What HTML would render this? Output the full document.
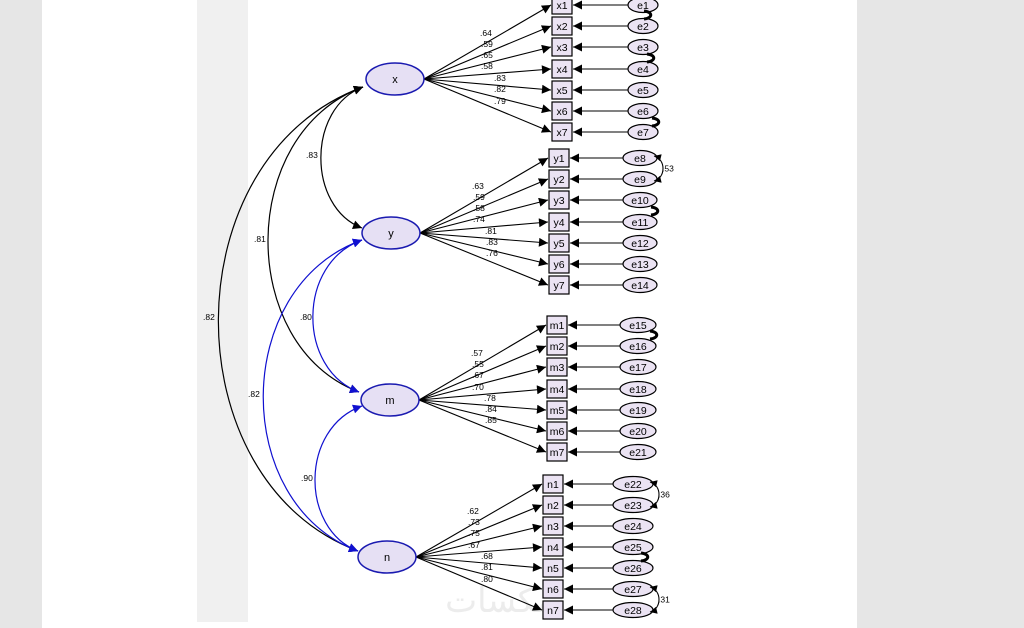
<!DOCTYPE html>
<html><head><meta charset="utf-8"><style>
body{margin:0;width:1024px;height:628px;overflow:hidden;background:#e6e6e6;font-family:"Liberation Sans",sans-serif}
#page{position:absolute;left:42px;top:0;width:815px;height:628px;background:#fff}
#strip{position:absolute;left:197px;top:0;width:51px;height:622px;background:#f0f0f0}
svg{position:absolute;left:0;top:0}
</style></head><body>
<div id="page"></div><div id="strip"></div>
<svg width="1024" height="628" viewBox="0 0 1024 628" font-family="Liberation Sans, sans-serif">
<defs>
<marker id="a" viewBox="0 0 10 10" refX="10" refY="5" markerWidth="13" markerHeight="9" orient="auto-start-reverse" markerUnits="userSpaceOnUse"><path d="M0,0L10,5L0,10z" fill="#000"/></marker>
<marker id="b" viewBox="0 0 10 10" refX="10" refY="5" markerWidth="13" markerHeight="9" orient="auto-start-reverse" markerUnits="userSpaceOnUse"><path d="M0,0L10,5L0,10z" fill="#1010d0"/></marker>
<marker id="s" viewBox="0 0 10 10" refX="10" refY="5" markerWidth="9" markerHeight="7" orient="auto-start-reverse" markerUnits="userSpaceOnUse"><path d="M0,0L10,5L0,10z" fill="#000"/></marker>
</defs>
<text x="500" y="612" font-size="34" text-anchor="middle" fill="#ececec" font-family="DejaVu Sans, sans-serif">مكسات</text>
<g fill="none" stroke-width="1.2">
<path d="M363,87 C307,108 307,207 362,228" stroke="#000" marker-start="url(#a)" marker-end="url(#a)"/>
<path d="M363,87 C237,133 237,346 359,392" stroke="#000" marker-start="url(#a)" marker-end="url(#a)"/>
<path d="M363,87 C171,157 171,481 358,551" stroke="#000" marker-start="url(#a)" marker-end="url(#a)"/>
<path d="M362,240 C297,263 297,369 359,392" stroke="#1010d0" marker-start="url(#b)" marker-end="url(#b)"/>
<path d="M362,240 C231,287 231,504 358,551" stroke="#1010d0" marker-start="url(#b)" marker-end="url(#b)"/>
<path d="M362,406 C300,428 300,529 358,551" stroke="#1010d0" marker-start="url(#b)" marker-end="url(#b)"/>
</g>
<g font-size="8.5" fill="#000">
<text x="306" y="158">.83</text><text x="254" y="242">.81</text><text x="203" y="320">.82</text>
<text x="300" y="320">.80</text><text x="248" y="397">.82</text><text x="301" y="481">.90</text>
</g>
</svg>
<script>
var S="http://www.w3.org/2000/svg",svg=document.querySelector('svg');
function el(n,a,t){var e=document.createElementNS(S,n);for(var k in a)e.setAttribute(k,a[k]);if(t)e.textContent=t;svg.appendChild(e);return e}
var G=[
{n:'x',cx:395,cy:79,bx:552,ys:[5,26,47,69,90,111,132],ex:643,erx:15,p:'x',e0:1,L:['.64','.59','.65','.58','.83','.82','.79'],lx:[480,481,481,481,494,494,494],ly:[36,47,58,69,81,92,104]},
{n:'y',cx:391,cy:233,bx:549,ys:[158,179,200,222,243,264,285],ex:640,erx:17,p:'y',e0:8,L:['.63','.59','.58','.74','.81','.83','.76'],lx:[472,473,473,473,485,486,486],ly:[189,200,211,222,234,245,256]},
{n:'m',cx:390,cy:400,bx:547,ys:[325,346,367,389,410,431,452],ex:638,erx:18,p:'m',e0:15,L:['.57','.55','.67','.70','.78','.84','.85'],lx:[471,472,472,472,484,485,485],ly:[356,367,378,390,401,412,423]},
{n:'n',cx:387,cy:557,bx:543,ys:[484,505,526,547,568,589,610],ex:633,erx:20,p:'n',e0:22,L:['.62','.73','.75','.67','.68','.81','.80'],lx:[467,468,468,468,481,481,481],ly:[514,525,536,548,559,570,582]}];
G.forEach(function(g){
 g.ys.forEach(function(y,i){
  el('line',{x1:g.cx+29,y1:g.cy,x2:g.bx-1,y2:y,stroke:'#000','stroke-width':1.1,'marker-end':'url(#a)'});
  el('line',{x1:g.ex-g.erx,y1:y,x2:g.bx+21,y2:y,stroke:'#000','stroke-width':1.1,'marker-end':'url(#a)'});
  el('rect',{x:g.bx,y:y-9,width:20,height:18,fill:'#ebe3f3',stroke:'#000','stroke-width':1.2});
  el('text',{x:g.bx+10,y:y+4,'font-size':10.5,'text-anchor':'middle',fill:'#000'},g.p+(i+1));
  el('ellipse',{cx:g.ex,cy:y,rx:g.erx,ry:7.5,fill:'#ebe3f3',stroke:'#000','stroke-width':1.2});
  el('text',{x:g.ex,y:y+4,'font-size':10.5,'text-anchor':'middle',fill:'#000'},'e'+(g.e0+i));
  el('text',{x:g.lx[i],y:g.ly[i],'font-size':8.5,fill:'#000'},g.L[i]);
 });
 el('ellipse',{cx:g.cx,cy:g.cy,rx:29,ry:16,fill:'#e6e0f4',stroke:'#1a1ab0','stroke-width':1.5});
 el('text',{x:g.cx,y:g.cy+4,'font-size':11,'text-anchor':'middle',fill:'#000'},g.n);
});
function cov(x,y1,y2,lab,lx){
 el('path',{d:'M'+x+','+y1+' C'+(x+12)+','+(y1+3)+' '+(x+12)+','+(y2-3)+' '+x+','+y2,fill:'none',stroke:'#000','stroke-width':1.1,'marker-start':'url(#s)','marker-end':'url(#s)'});
 if(lab)el('text',{x:lx,y:(y1+y2)/2+3,'font-size':8.5,fill:'#000'},lab);
}
cov(654,156,181,'.53',662);cov(650,482,507,'.36',658);cov(650,587,612,'.31',658);
function sm(x,y){el('path',{d:'M'+(x-4)+','+(y-4)+' C'+(x+5)+','+(y-3)+' '+(x+5)+','+(y+3)+' '+(x-4)+','+(y+4),fill:'none',stroke:'#000','stroke-width':3});}
sm(648,15);sm(651,58);sm(656,122);sm(655,211);sm(654,335);sm(645,557);
</script>
</body></html>
